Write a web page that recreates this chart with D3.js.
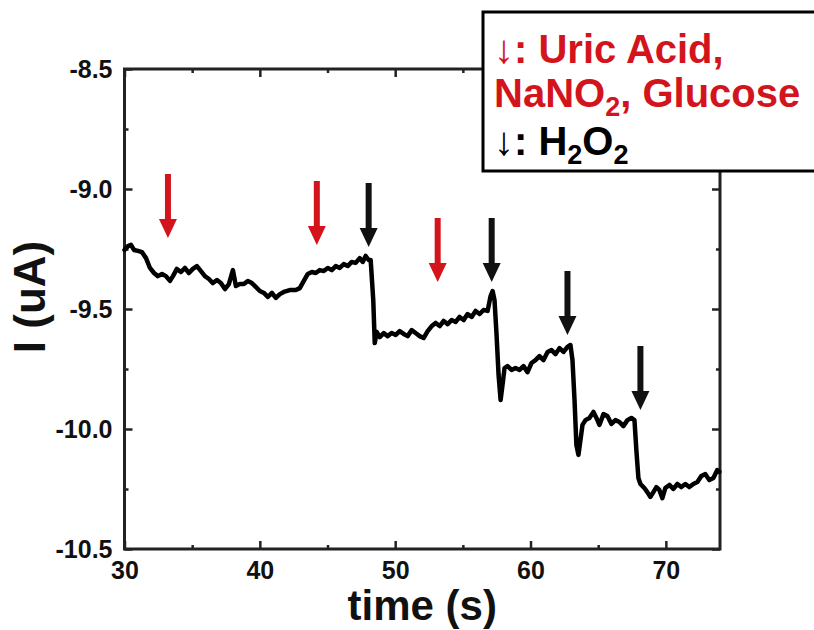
<!DOCTYPE html>
<html>
<head>
<meta charset="utf-8">
<script src="https://cdn.jsdelivr.net/npm/d3@7"></script>
<style>
  body { margin: 0; background: #fff; }
  svg { display: block; font-family: "Liberation Sans", Arial, sans-serif; font-weight: bold; }
</style>
</head>
<body>
<svg id="chart" width="814" height="630"></svg>
<script>
// amperometric trace
const time = [
  30.0, 30.26, 30.48, 30.7, 31.0, 31.29, 31.59, 31.88, 32.18, 32.47, 32.77, 33.06, 33.36, 33.58,
  33.87, 34.17, 34.46, 34.76, 35.05, 35.35, 35.65, 35.94, 36.24, 36.53, 36.83, 37.12, 37.42,
  37.71, 38.01, 38.23, 38.52, 38.82, 39.11, 39.41, 39.7, 40.0, 40.3, 40.59, 40.89, 41.18, 41.48,
  41.77, 42.21, 42.66, 42.95, 43.25, 43.54, 43.84, 44.13, 44.43, 44.72, 45.02, 45.31, 45.61,
  45.9, 46.2, 46.49, 46.79, 47.08, 47.38, 47.6, 47.82, 48.04, 48.19, 48.38, 48.49, 48.64, 48.86,
  49.15, 49.44, 49.74, 50.04, 50.33, 50.63, 50.92, 51.22, 51.51, 51.81, 52.1, 52.4, 52.7, 52.99,
  53.29, 53.58, 53.88, 54.17, 54.47, 54.76, 55.06, 55.35, 55.65, 55.94, 56.24, 56.53, 56.83,
  57.05, 57.2, 57.34, 57.49, 57.64, 57.79, 57.93, 58.08, 58.3,
  58.6, 58.89, 59.19, 59.48, 59.78, 60.07, 60.37, 60.66, 60.96, 61.26, 61.55, 61.85, 62.14,
  62.44, 62.73, 62.95, 63.1, 63.25, 63.39, 63.54, 63.69, 63.84, 64.06,
  64.35, 64.65, 64.87, 65.09, 65.39, 65.68, 65.98, 66.27, 66.57, 66.86, 67.16, 67.45, 67.68,
  67.82, 67.97, 68.12,
  68.41, 68.63, 68.86, 69.08, 69.3, 69.52, 69.74, 69.96, 70.26, 70.55, 70.85, 71.14, 71.44,
  71.73, 72.03, 72.33, 72.62, 72.92, 73.21, 73.51, 73.8, 73.95
];
const current = [
  -9.254, -9.238, -9.233, -9.254, -9.258, -9.263, -9.288, -9.329, -9.35, -9.363, -9.354, -9.363, -9.383, -9.363,
  -9.333, -9.346, -9.329, -9.35, -9.333, -9.321, -9.342, -9.363, -9.375, -9.392, -9.379, -9.392, -9.417,
  -9.396, -9.338, -9.404, -9.396, -9.396, -9.383, -9.392, -9.408, -9.425, -9.433, -9.45, -9.433, -9.454, -9.438,
  -9.429, -9.421, -9.421, -9.413, -9.383, -9.354, -9.346, -9.35, -9.338, -9.342, -9.329, -9.338, -9.321,
  -9.329, -9.313, -9.321, -9.304, -9.308, -9.288, -9.304, -9.279, -9.296, -9.296, -9.463, -9.642, -9.596, -9.617,
  -9.6, -9.613, -9.6, -9.608, -9.592, -9.604, -9.613, -9.588, -9.6, -9.613, -9.621, -9.592, -9.571, -9.558,
  -9.571, -9.55, -9.563, -9.546, -9.554, -9.533, -9.546, -9.521, -9.533, -9.508, -9.521, -9.504, -9.508,
  -9.446, -9.425, -9.463, -9.608, -9.775, -9.879, -9.817, -9.746, -9.738,
  -9.754, -9.746, -9.754, -9.738, -9.763, -9.725, -9.713, -9.696, -9.713, -9.679, -9.671, -9.688, -9.663,
  -9.679, -9.658, -9.65, -9.713, -9.879, -10.067, -10.108, -10.046, -9.983, -9.963,
  -9.954, -9.929, -9.954, -9.983, -9.938, -9.946, -9.979, -9.963, -9.971, -9.988, -9.963, -9.954, -9.963,
  -10.088, -10.204, -10.229,
  -10.246, -10.263, -10.283, -10.263, -10.242, -10.254, -10.288, -10.246, -10.233, -10.25, -10.229, -10.242, -10.229,
  -10.242, -10.229, -10.221, -10.196, -10.188, -10.213, -10.204, -10.171, -10.179
];

// injection markers: time and current at the arrow tip
const redArrowTimes = [33.21, 44.21, 53.14];
const redArrowTips = [-9.204, -9.233, -9.388];
const blackArrowTimes = [48.04, 57.13, 62.73, 68.12];
const blackArrowTips = [-9.242, -9.388, -9.608, -9.921];

const xTicks = [30, 40, 50, 60, 70];
const xMinor = [35, 45, 55, 65];
const yTicks = [-8.5, -9.0, -9.5, -10.0, -10.5];
const yMinor = [-8.75, -9.25, -9.75, -10.25];

const red = "#d3141d";
const ink = "#222";

const margin = { top: 69, right: 94, bottom: 81, left: 124.5 };
const svg = d3.select("#chart");
const W = +svg.attr("width"), H = +svg.attr("height");
const w = W - margin.left - margin.right;
const h = H - margin.top - margin.bottom;

const x = d3.scaleLinear().domain([30, 74]).range([0, w]);
const y = d3.scaleLinear().domain([-10.5, -8.5]).range([h, 0]);

const g = svg.append("g").attr("transform", `translate(${margin.left},${margin.top})`);

const styleAxis = (sel) => {
  sel.select(".domain").remove();
  sel.selectAll("line").attr("stroke", ink).attr("stroke-width", 2.5);
  sel.selectAll("text").attr("fill", "#111").attr("font-size", 25).attr("font-weight", "bold")
    .attr("font-family", '"Liberation Sans", Arial, sans-serif');
};

// plain hyphen for negatives, as in the original figure
const yFmt = (d) => d.toFixed(1);

// major + minor ticks, inward on all four sides
g.append("g").attr("transform", `translate(0,${h})`)
  .call(d3.axisBottom(x).tickValues(xTicks).tickSize(-8).tickPadding(12).tickFormat(d3.format("d")))
  .call(styleAxis)
  .selectAll("text").attr("dy", "0.72em");
g.append("g").attr("transform", `translate(0,${h})`)
  .call(d3.axisBottom(x).tickValues(xMinor).tickSize(-4).tickFormat(""))
  .call(styleAxis);
g.append("g")
  .call(d3.axisTop(x).tickValues(xTicks).tickSize(-8).tickFormat(""))
  .call(styleAxis);
g.append("g")
  .call(d3.axisTop(x).tickValues(xMinor).tickSize(-4).tickFormat(""))
  .call(styleAxis);

g.append("g")
  .call(d3.axisLeft(y).tickValues(yTicks).tickSize(-8).tickPadding(12).tickFormat(yFmt))
  .call(styleAxis);
g.append("g")
  .call(d3.axisLeft(y).tickValues(yMinor).tickSize(-4).tickFormat(""))
  .call(styleAxis);
g.append("g").attr("transform", `translate(${w},0)`)
  .call(d3.axisRight(y).tickValues(yTicks).tickSize(-8).tickFormat(""))
  .call(styleAxis);
g.append("g").attr("transform", `translate(${w},0)`)
  .call(d3.axisRight(y).tickValues(yMinor).tickSize(-4).tickFormat(""))
  .call(styleAxis);

// frame
g.append("rect")
  .attr("width", w).attr("height", h)
  .attr("fill", "none").attr("stroke", ink).attr("stroke-width", 3);

// trace
const pts = time.map((t, i) => [t, current[i]]);
g.append("path")
  .attr("d", d3.line().x((d) => x(d[0])).y((d) => y(d[1]))(pts))
  .attr("fill", "none")
  .attr("stroke", "#000")
  .attr("stroke-width", 4.5)
  .attr("stroke-linejoin", "round")
  .attr("stroke-linecap", "round");

// arrows
const arrowLen = 64, headH = 19, headW = 18, shaft = 6;
const arrowPath = (cx, tip) => {
  const top = tip - arrowLen, neck = tip - headH;
  return `M${cx - shaft / 2},${top}H${cx + shaft / 2}V${neck}H${cx + headW / 2}L${cx},${tip}L${cx - headW / 2},${neck}H${cx - shaft / 2}Z`;
};
const drawArrows = (times, tips, color) =>
  g.append("g").selectAll("path")
    .data(times.map((t, i) => [t, tips[i]]))
    .join("path")
    .attr("d", (d) => arrowPath(x(d[0]), y(d[1])))
    .attr("fill", color);
drawArrows(redArrowTimes, redArrowTips, red);
drawArrows(blackArrowTimes, blackArrowTips, "#111");

// axis titles
svg.append("text")
  .attr("x", margin.left + w / 2).attr("y", 620)
  .attr("text-anchor", "middle").attr("font-size", 42).attr("fill", "#111")
  .text("time (s)");
svg.append("text")
  .attr("transform", `translate(45,297) rotate(-90)`)
  .attr("text-anchor", "middle").attr("font-size", 44).attr("fill", "#111")
  .text("I (uA)");

// legend box
const lg = svg.append("g");
lg.append("rect")
  .attr("x", 483).attr("y", 12).attr("width", 360).attr("height", 159)
  .attr("fill", "#fff").attr("stroke", "#000").attr("stroke-width", 3);

const fs = 40, subFs = 27;
const line1 = lg.append("text").attr("x", 494).attr("y", 63).attr("font-size", fs).attr("fill", red);
line1.append("tspan").attr("font-weight", "normal").text("↓");
line1.append("tspan").text(": Uric Acid,");

const line2 = lg.append("text").attr("x", 494).attr("y", 107).attr("font-size", fs).attr("fill", red);
line2.append("tspan").text("NaNO");
line2.append("tspan").attr("font-size", subFs).attr("dy", 9).text("2");
line2.append("tspan").attr("dy", -9).text(", Glucose");

const line3 = lg.append("text").attr("x", 494).attr("y", 155).attr("font-size", fs).attr("fill", "#000");
line3.append("tspan").attr("font-weight", "normal").text("↓");
line3.append("tspan").text(": H");
line3.append("tspan").attr("font-size", subFs).attr("dy", 9).text("2");
line3.append("tspan").attr("dy", -9).text("O");
line3.append("tspan").attr("font-size", subFs).attr("dy", 9).text("2");
</script>
</body>
</html>
